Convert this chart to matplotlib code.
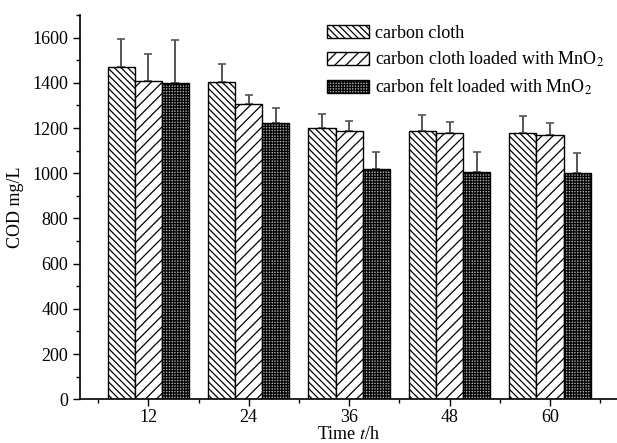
import matplotlib
matplotlib.use("Agg")
import matplotlib.pyplot as plt
import numpy as np
from matplotlib.ticker import MultipleLocator

plt.rcParams["font.family"] = ["Liberation Serif", "DejaVu Serif"]
plt.rcParams["mathtext.fontset"] = "stix"
plt.rcParams["hatch.linewidth"] = 0.9

# COD readings (mg/L) at each sampling time, with upper error bars
times = [12, 24, 36, 48, 60]
labels = ["carbon cloth", "carbon cloth loaded with MnO$_2$", "carbon felt loaded with MnO$_2$"]
cloth = [1470, 1403, 1199, 1189, 1177]
cloth_err = [125, 80, 62, 69, 78]
cloth_mno2 = [1410, 1305, 1187, 1177, 1168]
cloth_mno2_err = [116, 40, 44, 50, 56]
felt_mno2 = [1398, 1221, 1020, 1006, 1001]
felt_mno2_err = [192, 69, 76, 87, 90]

series = [(cloth, cloth_err), (cloth_mno2, cloth_mno2_err), (felt_mno2, felt_mno2_err)]
hatches = ["\\\\\\\\\\", "///", "++++++"]
faces = ["white", "white", "#a8a8a8"]
width = 3.24

fig = plt.figure(figsize=(6.17, 4.43), dpi=100)
ax = fig.add_axes([80 / 617, 1 - 399.3 / 443, 1 - 80 / 617, (399.3 - 15) / 443])

x = np.array(times, dtype=float)
for i, ((vals, errs), hatch, face, label) in enumerate(zip(series, hatches, faces, labels)):
    pos = x + (i - 1) * width
    ax.bar(pos, vals, width=width, color=face, edgecolor="black", linewidth=1.0,
           hatch=hatch, label=label, zorder=2)
    ax.errorbar(pos, vals, yerr=[np.zeros(len(errs)), errs], fmt="none",
                ecolor="#555555", elinewidth=1.4, capsize=3, capthick=1.2, zorder=1)

ax.set_xlim(3.84, 68)
ax.set_ylim(0, 1700)
ax.set_xticks(times)
ax.set_xticks([6, 18, 30, 42, 54, 66], minor=True)
ax.yaxis.set_major_locator(MultipleLocator(200))
ax.yaxis.set_minor_locator(MultipleLocator(100))
ax.tick_params(which="major", direction="out", length=5, width=1, labelsize=13)
ax.tick_params(which="minor", direction="out", length=3, width=1)
ax.tick_params(axis="x", which="major", pad=2)
for side in ("top", "right"):
    ax.spines[side].set_visible(False)
for side in ("left", "bottom"):
    ax.spines[side].set_linewidth(1.2)

ax.set_xlabel("Time $t$/h", fontsize=13, labelpad=0)
ax.set_ylabel("COD mg/L", fontsize=13, labelpad=6)

ax.legend(loc="upper left", bbox_to_anchor=(327 / 617, 1 - 25 / 443),
          bbox_transform=fig.transFigure, frameon=False, fontsize=13,
          handlelength=2.3, handleheight=0.75, handletextpad=0.35,
          borderpad=0, borderaxespad=0, labelspacing=0.42)

fig.savefig("out.png", dpi=100)
plt.close(fig)
